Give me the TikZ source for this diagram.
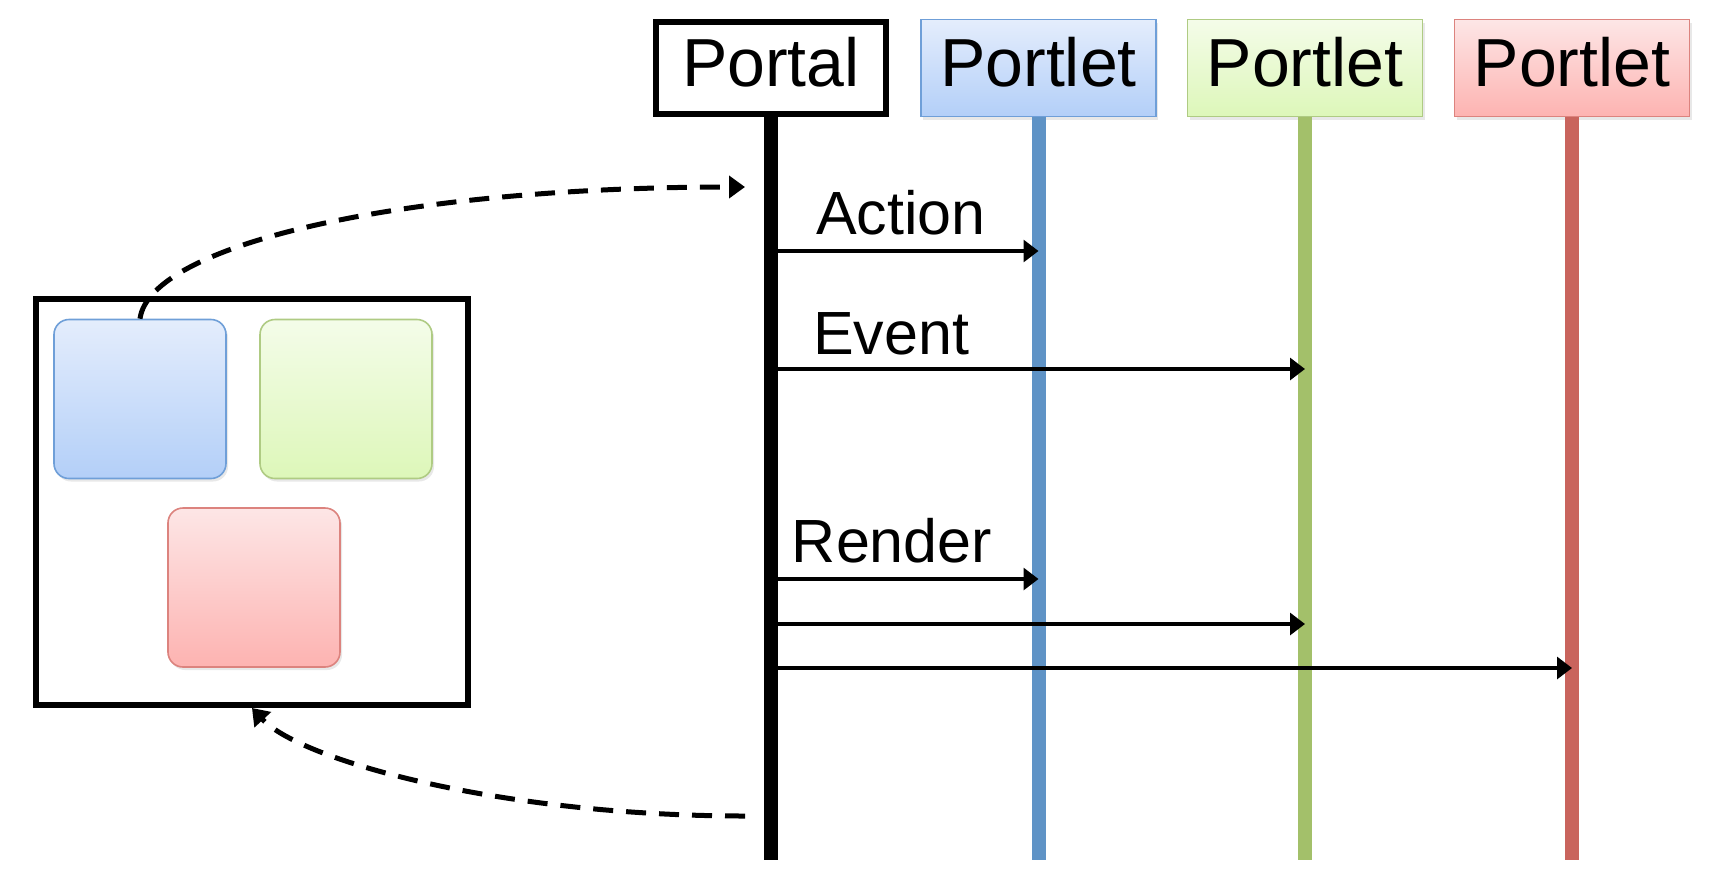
\documentclass[tikz,border=0pt]{standalone}
\usepackage{fontspec}
\setmainfont{Liberation Sans}
\usetikzlibrary{arrows.meta,shadows}
\definecolor{bT}{HTML}{E4EDFC}\definecolor{bB}{HTML}{B3CFF8}\definecolor{bD}{HTML}{6F9FD8}\definecolor{bL}{HTML}{5F93C6}
\definecolor{gT}{HTML}{F4FCE9}\definecolor{gB}{HTML}{DDF7B9}\definecolor{gD}{HTML}{AFCB83}\definecolor{gL}{HTML}{A3C06A}
\definecolor{rT}{HTML}{FDE6E6}\definecolor{rB}{HTML}{FDB3B1}\definecolor{rD}{HTML}{DC837E}\definecolor{rL}{HTML}{C9645D}
\begin{document}
\begin{tikzpicture}[x=0.5pt,y=-0.5pt,
  softshadow/.style={drop shadow={shadow xshift=1pt,shadow yshift=-1.5pt,opacity=0.18}},
  hdr/.style={draw,inner sep=0pt,minimum width=117.5pt,minimum height=48.5pt,
    font=\fontsize{34}{40}\selectfont,text depth=6pt,softshadow},
  blueb/.style={line width=0.8pt,draw=bD,top color=bT,bottom color=bB},
  greenb/.style={line width=0.8pt,draw=gD,top color=gT,bottom color=gB},
  redb/.style={line width=0.8pt,draw=rD,top color=rT,bottom color=rB},
  life/.style={line width=7pt},
  msg/.style={line width=1.6pt,-{Triangle[length=7.5pt,width=11pt]}},
  msglabel/.style={anchor=base,inner sep=0pt,font=\fontsize{30.5}{36}\selectfont},
  tile/.style={rounded corners=7.5pt,minimum width=86pt,minimum height=79.5pt,inner sep=0pt,softshadow},
  back/.style={line width=2.5pt,dash pattern=on 10pt off 6.5pt,-{Triangle[length=8pt,width=11pt]}}]
\useasboundingbox (0,0) rectangle (1718,884);
% header boxes
\node[hdr,line width=3pt,fill=white,minimum width=115pt,minimum height=46pt] (portal) at (771,68) {Portal};
\node[hdr,blueb] (pl1) at (1038.5,68) {Portlet};
\node[hdr,greenb] (pl2) at (1305,68) {Portlet};
\node[hdr,redb] (pl3) at (1572,68) {Portlet};
% lifelines
\coordinate (bot) at (0,860);
\draw[life,black] (portal.south) -- (portal.south |- bot);
\draw[life,bL] (pl1.south) -- (pl1.south |- bot);
\draw[life,gL] (pl2.south) -- (pl2.south |- bot);
\draw[life,rL] (pl3.south) -- (pl3.south |- bot);
% messages
\coordinate (m1) at (771,251);
\coordinate (m2) at (771,369);
\coordinate (m3) at (771,579);
\coordinate (m4) at (771,624);
\coordinate (m5) at (771,668);
\draw[msg] (m1) -- (m1 -| pl1.south);
\draw[msg] (m2) -- (m2 -| pl2.south);
\draw[msg] (m3) -- (m3 -| pl1.south);
\draw[msg] (m4) -- (m4 -| pl2.south);
\draw[msg] (m5) -- (m5 -| pl3.south);
\node[msglabel] (lact) at (901,234) {Action};
\node[msglabel] (levt) at (891,354) {Event};
\node[msglabel] (lren) at (892,562) {Render};
% page frame
\node[draw,line width=3pt,minimum width=216pt,minimum height=203pt,inner sep=0pt,softshadow,fill=white] (frame) at (252,502) {};
\node[tile,blueb] (tb) at (140,399) {};
\node[tile,greenb] (tg) at (346,399) {};
\node[tile,redb] (tr) at (254,587.5) {};
% dashed round trip
\coordinate (tt) at (745,187);
\coordinate (bs) at (745,816);
\draw[back] (tb.north) .. controls (150,245) and (400,187) .. (tt);
\draw[back] (bs) .. controls (500,816) and (300,760) .. (frame.south);
\end{tikzpicture}
\end{document}
